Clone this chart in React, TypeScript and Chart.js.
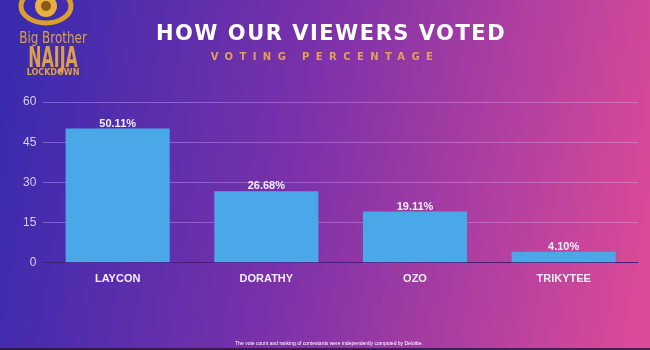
import React, { useEffect, useRef } from "react";
import { Chart, registerables } from "chart.js";

Chart.register(...registerables);

const contestants = ["LAYCON", "DORATHY", "OZO", "TRIKYTEE"];
const votePercentages = [50.11, 26.68, 19.11, 4.1];
const valueLabels = ["50.11%", "26.68%", "19.11%", "4.10%"];
const yTicks = [0, 15, 30, 45, 60];

const titleText = "HOW OUR VIEWERS VOTED";
const subtitleText = "VOTING PERCENTAGE";
const footerText =
  "The vote count and ranking of contestants were independently computed by Deloitte.";

const backgroundPlugin = {
  id: "bgDecor",
  beforeDraw(chart: any) {
    const { ctx, width, height } = chart;
    ctx.save();
    const g = ctx.createLinearGradient(0, 120, width, 230);
    g.addColorStop(0, "#3a2bae");
    g.addColorStop(0.45, "#7a31aa");
    g.addColorStop(1, "#da4a98");
    ctx.fillStyle = g;
    ctx.fillRect(0, 0, width, height);
    ctx.fillStyle = "rgba(40,20,60,0.8)";
    ctx.fillRect(0, height - 2, width, 2);

    // logo eye
    ctx.strokeStyle = "#d9a030";
    ctx.lineWidth = 5;
    ctx.beginPath();
    ctx.ellipse(46, 6, 25, 17, 0, 0, Math.PI * 2);
    ctx.stroke();
    ctx.beginPath();
    ctx.arc(46, 6, 11, 0, Math.PI * 2);
    ctx.fillStyle = "#e8b040";
    ctx.fill();
    ctx.beginPath();
    ctx.arc(46, 6, 5, 0, Math.PI * 2);
    ctx.fillStyle = "#8a5a18";
    ctx.fill();

    ctx.fillStyle = "#dca04a";
    ctx.textAlign = "center";
    ctx.textBaseline = "alphabetic";
    ctx.font = "14px 'Liberation Sans Narrow', 'DejaVu Sans Condensed', sans-serif";
    ctx.save();
    ctx.translate(53, 43);
    ctx.scale(0.95, 1.1);
    ctx.fillText("Big Brother", 0, 0);
    ctx.restore();
    ctx.save();
    ctx.translate(53, 67);
    ctx.scale(0.8, 1.3);
    ctx.font = "bold 22px 'Liberation Sans Narrow', 'DejaVu Sans Condensed', sans-serif";
    ctx.fillText("NAIJA", 0, 0);
    ctx.restore();
    ctx.font = "bold 8px 'DejaVu Sans', sans-serif";
    ctx.fillText("LOCKDOWN", 53, 75);

    // title
    ctx.fillStyle = "#ffffff";
    ctx.font = "bold 21px 'DejaVu Sans', sans-serif";
    (ctx as any).letterSpacing = "1.5px";
    ctx.fillText(titleText, 331, 40);
    ctx.fillStyle = "#e3a05a";
    ctx.font = "bold 10px 'DejaVu Sans', sans-serif";
    (ctx as any).letterSpacing = "6.4px";
    ctx.fillText(subtitleText, 325, 60);
    (ctx as any).letterSpacing = "0px";

    // footer
    ctx.fillStyle = "#ffffff";
    ctx.font = "5px 'Liberation Sans', sans-serif";
    ctx.fillText(footerText, 329, 345);
    ctx.restore();
  },
};

const valueLabelPlugin = {
  id: "valueLabels",
  afterDatasetsDraw(chart: any) {
    const { ctx } = chart;
    const meta = chart.getDatasetMeta(0);
    ctx.save();
    ctx.fillStyle = "#f4eefa";
    ctx.font = "bold 11px 'Liberation Sans', Arial, sans-serif";
    ctx.textAlign = "center";
    ctx.textBaseline = "alphabetic";
    meta.data.forEach((bar: any, i: number) => {
      ctx.fillText(valueLabels[i], bar.x, bar.y - 2);
    });
    ctx.restore();
  },
};

export default function App() {
  const ref = useRef<HTMLCanvasElement | null>(null);
  useEffect(() => {
    document.body.style.margin = "0";
    if (!ref.current) return;
    const chart = new Chart(ref.current, {
      type: "bar",
      data: {
        labels: contestants,
        datasets: [
          {
            data: votePercentages,
            backgroundColor: "#4ba8e8",
            barPercentage: 0.7,
            categoryPercentage: 1,
          },
        ],
      },
      options: {
        animation: false,
        responsive: false,
        layout: { padding: { top: 102, left: 16, right: 12, bottom: 62 } },
        plugins: {
          legend: { display: false },
          tooltip: { enabled: false },
          title: { display: false },
        },
        scales: {
          x: {
            grid: { display: false },
            border: { display: false },
            ticks: {
              color: "#f4eefa",
              font: { family: "'Liberation Sans', Arial, sans-serif", size: 11, weight: "bold" },
              padding: 2,
            },
          },
          y: {
            min: 0,
            max: 60,
            afterBuildTicks(axis: any) {
              axis.ticks = yTicks.map((v) => ({ value: v }));
            },
            border: { display: false },
            grid: {
              drawTicks: false,
              color: (c: any) =>
                c.tick && c.tick.value === 0 ? "#4a1c7a" : "rgba(225,190,255,0.35)",
              lineWidth: 1,
            },
            ticks: {
              color: "#d8cdf0",
              font: { family: "'Liberation Sans', Arial, sans-serif", size: 12 },
              padding: 7,
            },
          },
        },
      },
      plugins: [backgroundPlugin, valueLabelPlugin],
    });
    return () => chart.destroy();
  }, []);
  return (
    <div style={{ width: 650, height: 350 }}>
      <canvas ref={ref} width={650} height={350} style={{ display: "block" }} />
    </div>
  );
}
